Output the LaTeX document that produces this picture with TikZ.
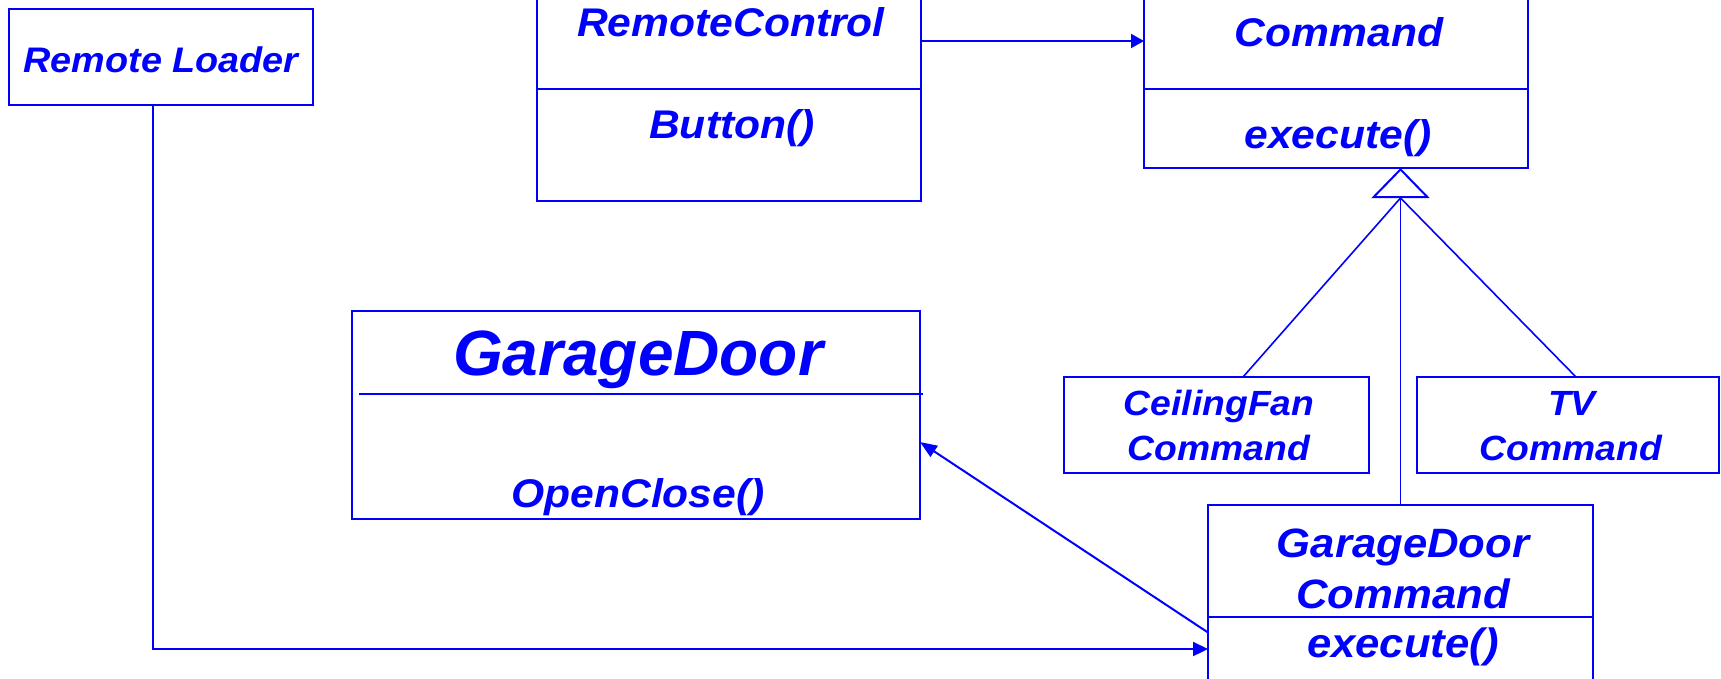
\documentclass[tikz,border=0pt]{standalone}
\usepackage{fontspec}
\setmainfont{Liberation Sans}
\newfontfamily\widesans[FakeStretch=1.065]{Liberation Sans}
\usetikzlibrary{arrows.meta,calc}
\definecolor{umlblue}{RGB}{0,0,255}
\begin{document}
\begin{tikzpicture}[x=1pt,y=-1pt,
  box/.style={draw=umlblue, line width=2pt, inner sep=0pt, outer sep=0pt},
  lbl/.style={text=umlblue, inner sep=0pt, anchor=base,
    font=\widesans\bfseries\itshape\fontsize{#1}{#1}\selectfont},
  biglbl/.style={text=umlblue, inner sep=0pt, anchor=base,
    font=\bfseries\itshape\fontsize{#1}{#1}\selectfont},
  divider/.style={draw=umlblue, line width=2pt},
  conn/.style={draw=umlblue, line width=1.6pt},
  headfill/.style={-{Triangle[length=15pt,width=14pt]}}
]
\useasboundingbox (0,0) rectangle (1721,678);
\clip (0,0) rectangle (1721,678);

% ---- class boxes ----
\node[box, minimum width=304pt, minimum height=96pt] (rl) at (161,57) {};
\node[lbl=35.5] (rlname) at (161,72) {Remote Loader};

\node[box, minimum width=384pt, minimum height=261pt] (rc) at (729,70.5) {};
\draw[divider] (rc.west |- 0,89) -- (rc.east |- 0,89);
\node[lbl=40] (rcname) at (731,36) {RemoteControl};
\node[lbl=40] (rcop) at (732,138) {Button()};

\node[box, minimum width=384pt, minimum height=228pt] (cmd) at (1336,54) {};
\draw[divider] (cmd.west |- 0,89) -- (cmd.east |- 0,89);
\node[lbl=40] (cmdname) at (1339,46) {Command};
\node[lbl=40] (cmdop) at (1338,148) {execute()};

\node[box, minimum width=568pt, minimum height=208pt] (gd) at (636,415) {};
\draw[divider] (359,394) -- (923,394);
\node[biglbl=64] (gdname) at (638,375) {GarageDoor};
\node[lbl=40] (gdop) at (638,507) {OpenClose()};

\node[box, minimum width=305pt, minimum height=96pt] (cf) at (1216.5,425) {};
\node[lbl=35] (cfname1) at (1219,415) {CeilingFan};
\node[lbl=35] (cfname2) at (1219,460) {Command};

\node[box, minimum width=302pt, minimum height=96pt] (tv) at (1568,425) {};
\node[lbl=35] (tvname1) at (1572,415) {TV};
\node[lbl=35] (tvname2) at (1571,460) {Command};

\node[box, minimum width=385pt, minimum height=255pt] (gdc) at (1400.5,632.5) {};
\draw[divider] (gdc.west |- 0,617) -- (gdc.east |- 0,617);
\node[lbl=41] (gdcname1) at (1403,557) {GarageDoor};
\node[lbl=41] (gdcname2) at (1403,608) {Command};
\node[lbl=41] (gdcop) at (1403,657) {execute()};

% ---- connectors ----
\coordinate (link) at (921,41);
\draw[conn, line width=2pt, -{Triangle[length=13pt,width=14pt]}]
  (rc.east |- link) -- (cmd.west |- link);

% generalisation: one open triangle shared by the three subclasses
\draw[conn, -{Triangle[open,length=30pt,width=58pt,line width=2pt]}]
  (gdc.north) -- (gdc.north |- cmd.south);
\coordinate (tribase) at ($(gdc.north |- cmd.south)+(0,30)$);
\draw[conn] ([xshift=26.5pt]cf.north) -- (tribase);
\draw[conn] ([xshift=8pt]tv.north) -- (tribase);

% command -> receiver
\draw[conn, line width=2pt, -{Triangle[length=17pt,width=13pt]}]
  (gdc.west) -- ([yshift=-27pt]gd.east);

% loader -> command
\coordinate (corner) at (153,649);
\draw[conn, line width=2.2pt, headfill]
  (rl.south -| corner) -- (corner) -- (gdc.west |- corner);
\end{tikzpicture}
\end{document}
